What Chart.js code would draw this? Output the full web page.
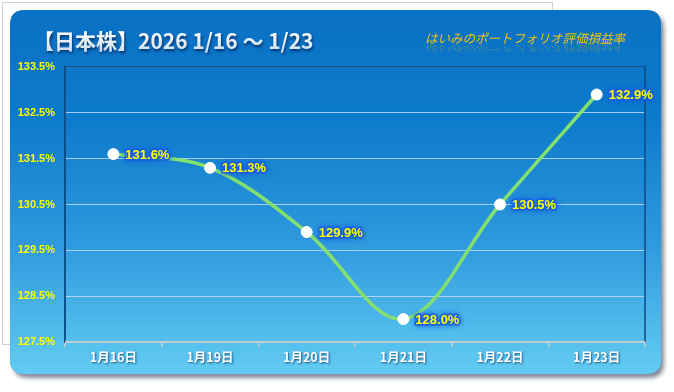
<!DOCTYPE html>
<html>
<head>
<meta charset="utf-8">
<script src="https://cdn.jsdelivr.net/npm/chart.js@4.4.1/dist/chart.umd.min.js"></script>
<style>
html,body{margin:0;padding:0;background:#ffffff;}
#wrap{width:674px;height:392px;position:relative;}
</style>
</head>
<body>
<div id="wrap"><canvas id="c" width="674" height="392"></canvas></div>
<script>
const categories = ['1月16日','1月19日','1月20日','1月21日','1月22日','1月23日'];
const values = [131.6, 131.3, 129.9, 128.0, 130.5, 132.9];
const valueLabels = ['131.6%','131.3%','129.9%','128.0%','130.5%','132.9%'];
const yTickValues = [127.5, 128.5, 129.5, 130.5, 131.5, 132.5, 133.5];
const titleText = '【日本株】2026 1/16 ～ 1/23';
const subtitleText = 'はいみのポートフォリオ評価損益率';

function roundRect(ctx, x, y, w, h, r) {
  ctx.beginPath();
  ctx.moveTo(x + r, y);
  ctx.lineTo(x + w - r, y);
  ctx.quadraticCurveTo(x + w, y, x + w, y + r);
  ctx.lineTo(x + w, y + h - r);
  ctx.quadraticCurveTo(x + w, y + h, x + w - r, y + h);
  ctx.lineTo(x + r, y + h);
  ctx.quadraticCurveTo(x, y + h, x, y + h - r);
  ctx.lineTo(x, y + r);
  ctx.quadraticCurveTo(x, y, x + r, y);
  ctx.closePath();
}

const backgroundPlugin = {
  id: 'cardBg',
  beforeDraw(chart) {
    const ctx = chart.ctx;
    ctx.save();
    ctx.fillStyle = '#ffffff';
    ctx.fillRect(0, 0, chart.width, chart.height);
    // outer thin frame
    ctx.strokeStyle = '#d0d0d0';
    ctx.lineWidth = 1;
    ctx.strokeRect(2.5, 2.5, 550, 342);
    // card shadow
    ctx.save();
    ctx.shadowColor = 'rgba(90,100,120,0.75)';
    ctx.shadowBlur = 4;
    ctx.shadowOffsetX = 3;
    ctx.shadowOffsetY = 4;
    roundRect(ctx, 10, 10, 651, 364, 15);
    ctx.fillStyle = '#3a9ee0';
    ctx.fill();
    ctx.restore();
    // card gradient
    const g = ctx.createLinearGradient(0, 10, 0, 374);
    g.addColorStop(0, '#0a71c4');
    g.addColorStop(0.3, '#0c7bcb');
    g.addColorStop(0.65, '#2f9ade');
    g.addColorStop(1, '#62ccf3');
    roundRect(ctx, 10, 10, 651, 364, 15);
    ctx.fillStyle = g;
    ctx.fill();

    // title
    ctx.font = "bold 21px 'Noto Sans CJK JP'";
    ctx.textBaseline = 'alphabetic';
    ctx.textAlign = 'left';
    ctx.shadowColor = 'rgba(0,30,80,0.8)';
    ctx.shadowBlur = 3;
    ctx.shadowOffsetX = 1;
    ctx.shadowOffsetY = 2;
    const tg = ctx.createLinearGradient(0, 30, 0, 50);
    tg.addColorStop(0, '#ffffff');
    tg.addColorStop(1, '#d4e2ee');
    ctx.fillStyle = tg;
    ctx.fillText(titleText, 33, 49);

    // subtitle with faint reflection
    ctx.shadowColor = 'transparent';
    ctx.shadowBlur = 0; ctx.shadowOffsetX = 0; ctx.shadowOffsetY = 0;
    ctx.font = "italic 12.5px 'Noto Sans CJK JP'";
    ctx.fillStyle = '#f2c216';
    ctx.fillText(subtitleText, 425, 43);
    ctx.save();
    ctx.beginPath();
    ctx.rect(420, 44, 200, 8);
    ctx.clip();
    ctx.translate(0, 88);
    ctx.scale(1, -1);
    ctx.globalAlpha = 0.22;
    ctx.fillText(subtitleText, 425, 43);
    ctx.restore();
    ctx.restore();
  },
  afterDatasetsDraw(chart) {
    const ctx = chart.ctx;
    const a = chart.chartArea;
    ctx.save();
    // plot frame (top, right, left)
    ctx.strokeStyle = '#0a4c86';
    ctx.lineWidth = 1.5;
    ctx.beginPath();
    ctx.moveTo(a.left, a.bottom);
    ctx.lineTo(a.left, a.top);
    ctx.lineTo(a.right, a.top);
    ctx.lineTo(a.right, a.bottom);
    ctx.stroke();
    // bottom axis line
    ctx.strokeStyle = '#c4ccd6';
    ctx.lineWidth = 2;
    ctx.beginPath();
    ctx.moveTo(a.left, a.bottom);
    ctx.lineTo(a.right, a.bottom);
    ctx.stroke();
    // data labels
    const meta = chart.getDatasetMeta(0);
    ctx.font = "bold 13px 'Liberation Sans'";
    ctx.textBaseline = 'middle';
    ctx.textAlign = 'left';
    meta.data.forEach((pt, i) => {
      const x = pt.x + 12, y = pt.y + 1;
      ctx.shadowColor = 'rgba(20,90,230,1)';
      ctx.shadowBlur = 5;
      ctx.strokeStyle = 'rgba(25,95,225,0.85)';
      ctx.lineWidth = 3.5;
      ctx.lineJoin = 'round';
      ctx.strokeText(valueLabels[i], x, y);
      ctx.shadowBlur = 0;
      ctx.shadowColor = 'transparent';
      ctx.fillStyle = '#ffff00';
      ctx.fillText(valueLabels[i], x, y);
    });
    // x labels
    const xs = chart.scales.x;
    ctx.font = "bold 12.5px 'Noto Sans CJK JP'";
    ctx.textAlign = 'center';
    ctx.textBaseline = 'middle';
    categories.forEach((c, i) => {
      const x = xs.getPixelForValue(i);
      ctx.shadowColor = 'rgba(0,40,90,0.7)';
      ctx.shadowBlur = 2;
      ctx.shadowOffsetX = 1;
      ctx.shadowOffsetY = 1;
      ctx.fillStyle = '#ffffff';
      ctx.fillText(c, x, 357);
    });
    ctx.restore();
  }
};

new Chart(document.getElementById('c'), {
  type: 'line',
  data: {
    labels: categories,
    datasets: [{
      data: values,
      borderColor: '#84e06e',
      borderWidth: 3.5,
      tension: 0.35,
      pointRadius: 5.5,
      pointHoverRadius: 5.5,
      pointBackgroundColor: '#ffffff',
      pointBorderColor: '#ffffff',
      pointBorderWidth: 1,
      fill: false
    }]
  },
  options: {
    responsive: false,
    animation: false,
    devicePixelRatio: 1,
    layout: { padding: { left: 10, right: 29, top: 67, bottom: 0 } },
    plugins: { legend: { display: false }, tooltip: { enabled: false } },
    scales: {
      x: {
        offset: true,
        grid: { display: true, drawOnChartArea: false, drawTicks: true, tickLength: 5, color: '#c4ccd6', lineWidth: 1.5, offset: true },
        border: { display: true, color: '#c4ccd6', width: 2 },
        ticks: { color: 'rgba(0,0,0,0)', font: { size: 11 } },
        afterFit(s) { s.height = 50; }
      },
      y: {
        min: 127.5,
        max: 133.5,
        afterBuildTicks(s) { s.ticks = yTickValues.map(v => ({ value: v })); },
        grid: { color: 'rgba(190,220,248,0.85)', lineWidth: 1, drawTicks: false },
        border: { display: true, color: '#0a4c86', width: 1.5 },
        ticks: {
          color: '#ffff00',
          padding: 10,
          font: { family: "'Liberation Sans'", weight: 'bold', size: 11 },
          callback: v => v.toFixed(1) + '%'
        },
        afterFit(s) { s.width = 55; }
      }
    }
  },
  plugins: [backgroundPlugin]
});
</script>
</body>
</html>
